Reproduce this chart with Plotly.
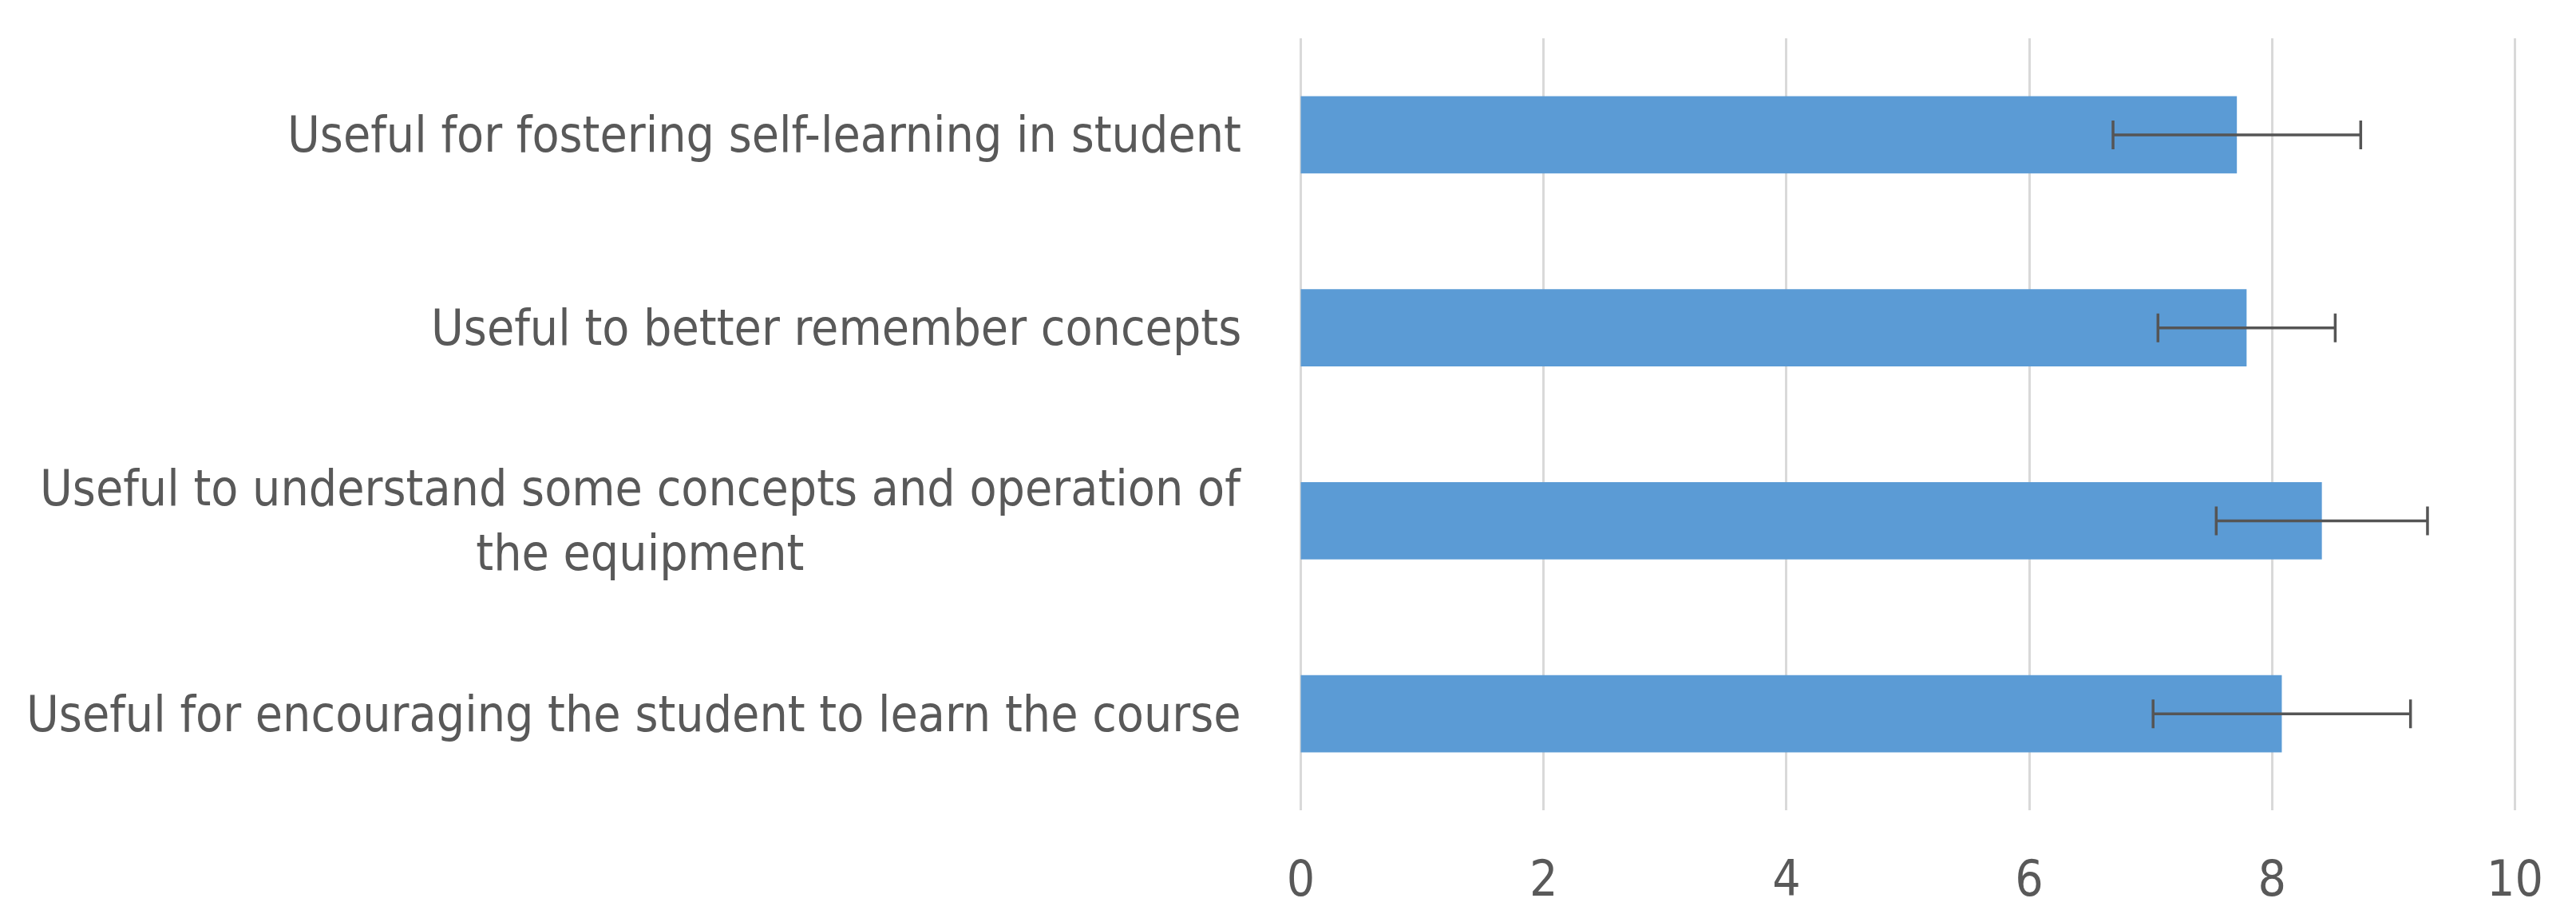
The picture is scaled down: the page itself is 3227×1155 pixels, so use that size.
import plotly.graph_objects as go

# данные
labels = [
    "Useful for fostering self-learning in student",
    "Useful to better remember concepts",
    "Useful to understand some concepts and operation of<br>the equipment",
    "Useful for encouraging the student to learn the course",
]
means = [7.71, 7.79, 8.41, 8.08]
errors = [1.02, 0.73, 0.87, 1.06]
x_ticks = [0, 2, 4, 6, 8, 10]

TEXT_COLOR = "#595959"
FONT = "Liberation Sans Narrow, DejaVu Sans Condensed, Arial Narrow, sans-serif"

fig = go.Figure()

fig.add_trace(go.Bar(
    y=labels,
    x=means,
    orientation="h",
    marker=dict(color="#5B9BD5", line=dict(width=0)),
    error_x=dict(
        type="data",
        array=errors,
        visible=True,
        color="#555555",
        thickness=3.5,
        width=18,
    ),
))

# подписи категорий аннотациями, чтобы вторая строка была по центру
for lab in labels:
    fig.add_annotation(
        x=0, xref="paper", xanchor="right", xshift=-71,
        y=lab, yref="y", yanchor="middle",
        text=lab, showarrow=False, align="center",
        font=dict(family=FONT, size=62, color=TEXT_COLOR),
    )

# страница браузера добавляет отступ 8px, поэтому размер чуть меньше окна
fig.update_layout(
    width=3219,
    height=1147,
    margin=dict(l=1620, r=75, t=40, b=140),
    paper_bgcolor="white",
    plot_bgcolor="white",
    showlegend=False,
    bargap=0.6,
    xaxis=dict(
        range=[-0.01, 10.01],
        tickvals=x_ticks,
        showgrid=True,
        gridcolor="#D9D9D9",
        gridwidth=3,
        zeroline=False,
        showline=False,
        ticklabelstandoff=44,
        tickfont=dict(family=FONT, size=62, color=TEXT_COLOR),
    ),
    yaxis=dict(
        categoryorder="array",
        categoryarray=labels,
        autorange="reversed",
        showticklabels=False,
        showgrid=False,
        zeroline=False,
        showline=False,
    ),
)

fig.write_html("out.html")
